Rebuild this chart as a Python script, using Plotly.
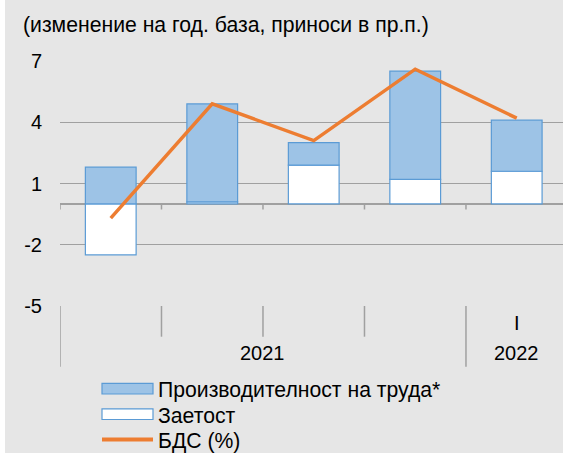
import plotly.graph_objects as go

# ---- data ----
years = ["2021", "2021", "2021", "2021", "2022"]
quarters = ["", "", "", "", "I"]
employment = [-2.5, 0.1, 1.9, 1.2, 1.6]
productivity = [1.8, 4.8, 1.1, 5.3, 2.5]
gdp = [-0.7, 4.9, 3.1, 6.6, 4.2]

title_text = "(изменение на год. база, приноси в пр.п.)"
name_prod = "Производителност на труда*"
name_emp = "Заетост"
name_gdp = "БДС (%)"
y_ticks = [7, 4, 1, -2, -5]

# ---- layout geometry ----
W, H = 563, 453
ML, MR, MT, MB = 60, 0, 61, 147
PW, PH = W - ML - MR, H - MT - MB

def xp(px):
    return (px - ML) / PW

def yp(py):
    return (H - MB - py) / PH

FONT = "Liberation Sans, Arial, sans-serif"
FS = 20
FS_TXT = 21.2
BLUE_FILL = "#9dc3e6"
BLUE_LINE = "#5b9bd5"
ORANGE = "#ed7d31"
GRID = "#a0a0a0"
BG = "#e6e6e6"

x = list(range(len(years)))

fig = go.Figure()
fig.add_trace(go.Bar(x=x, y=employment, name=name_emp, width=0.5,
                     marker=dict(color="white", line=dict(color=BLUE_LINE, width=1.2))))
fig.add_trace(go.Bar(x=x, y=productivity, name=name_prod, width=0.5,
                     marker=dict(color=BLUE_FILL, line=dict(color=BLUE_LINE, width=1.2))))
fig.add_trace(go.Scatter(x=x, y=gdp, name=name_gdp, mode="lines",
                         line=dict(color=ORANGE, width=3.5)))

shapes = []
annotations = []

# white strip at left edge
shapes.append(dict(type="rect", xref="paper", yref="paper",
                   x0=xp(0), x1=xp(5), y0=yp(H), y1=yp(0),
                   fillcolor="white", line=dict(width=0), layer="below"))

# category boundaries
n = len(years)
for i in range(n + 1):
    b = i - 0.5
    # small ticks under the zero line
    shapes.append(dict(type="line", xref="x", yref="paper",
                       x0=b, x1=b, y0=yp(204), y1=yp(209.5),
                       line=dict(color=GRID, width=1.5)))
    # separators below the plot
    is_year_edge = (i == 0) or (i == n) or (years[i] != years[i - 1])
    bottom = 366.7 if is_year_edge else 336.7
    shapes.append(dict(type="line", xref="x", yref="paper",
                       x0=b, x1=b, y0=yp(306), y1=yp(bottom),
                       line=dict(color=GRID, width=1.5)))

# quarter labels
for i, q in enumerate(quarters):
    if q:
        annotations.append(dict(x=i, y=yp(322.5), xref="x", yref="paper", text=q,
                                showarrow=False, xanchor="center", yanchor="middle",
                                font=dict(family=FONT, size=FS, color="black")))
# year labels
groups = []
for i, yv in enumerate(years):
    if groups and groups[-1][0] == yv:
        groups[-1][2] = i
    else:
        groups.append([yv, i, i])
for yv, a, b in groups:
    annotations.append(dict(x=(a + b) / 2, y=yp(353.5), xref="x", yref="paper", text=yv,
                            showarrow=False, xanchor="center", yanchor="middle",
                            font=dict(family=FONT, size=FS, color="black")))

# title
annotations.append(dict(x=xp(21), y=yp(25), xref="paper", yref="paper", text=title_text,
                        showarrow=False, xanchor="left", yanchor="middle",
                        font=dict(family=FONT, size=FS_TXT, color="black")))

# manual legend
legend_items = [
    (name_prod, "rect", BLUE_FILL, 388.7),
    (name_emp, "rect", "white", 414.2),
    (name_gdp, "line", ORANGE, 439.5),
]
for label, kind, col, cy in legend_items:
    if kind == "rect":
        shapes.append(dict(type="rect", xref="paper", yref="paper",
                           x0=xp(102), x1=xp(153), y0=yp(cy - 5.3), y1=yp(cy + 5.3),
                           fillcolor=col, line=dict(color=BLUE_LINE, width=1.2)))
    else:
        shapes.append(dict(type="line", xref="paper", yref="paper",
                           x0=xp(102), x1=xp(153), y0=yp(cy), y1=yp(cy),
                           line=dict(color=col, width=4)))
    annotations.append(dict(x=xp(156), y=yp(cy + 1), xref="paper", yref="paper", text=label,
                            showarrow=False, xanchor="left", yanchor="middle",
                            font=dict(family=FONT, size=FS_TXT, color="black")))

fig.update_layout(
    width=W, height=H,
    margin=dict(l=ML, r=MR, t=MT, b=MB, pad=0),
    paper_bgcolor=BG, plot_bgcolor=BG,
    barmode="relative",
    showlegend=False,
    font=dict(family=FONT, size=FS, color="black"),
    shapes=shapes,
    annotations=annotations,
    xaxis=dict(range=[-0.5, n - 0.5 - 0.044], showticklabels=False, showgrid=False,
               zeroline=False, showline=False, ticks=""),
    yaxis=dict(range=[-5, 7], tickvals=y_ticks, ticktext=[str(v) for v in y_ticks],
               showgrid=True, gridcolor=GRID, gridwidth=1.2,
               zeroline=True, zerolinecolor=GRID, zerolinewidth=1.5,
               showline=False, ticks="", ticklabelstandoff=17,
               tickfont=dict(family=FONT, size=FS, color="black")),
)

fig.write_html("out.html",
               config={"displayModeBar": False},
               post_script="document.body.style.margin='0';document.body.style.padding='0';document.body.style.overflow='hidden';")
